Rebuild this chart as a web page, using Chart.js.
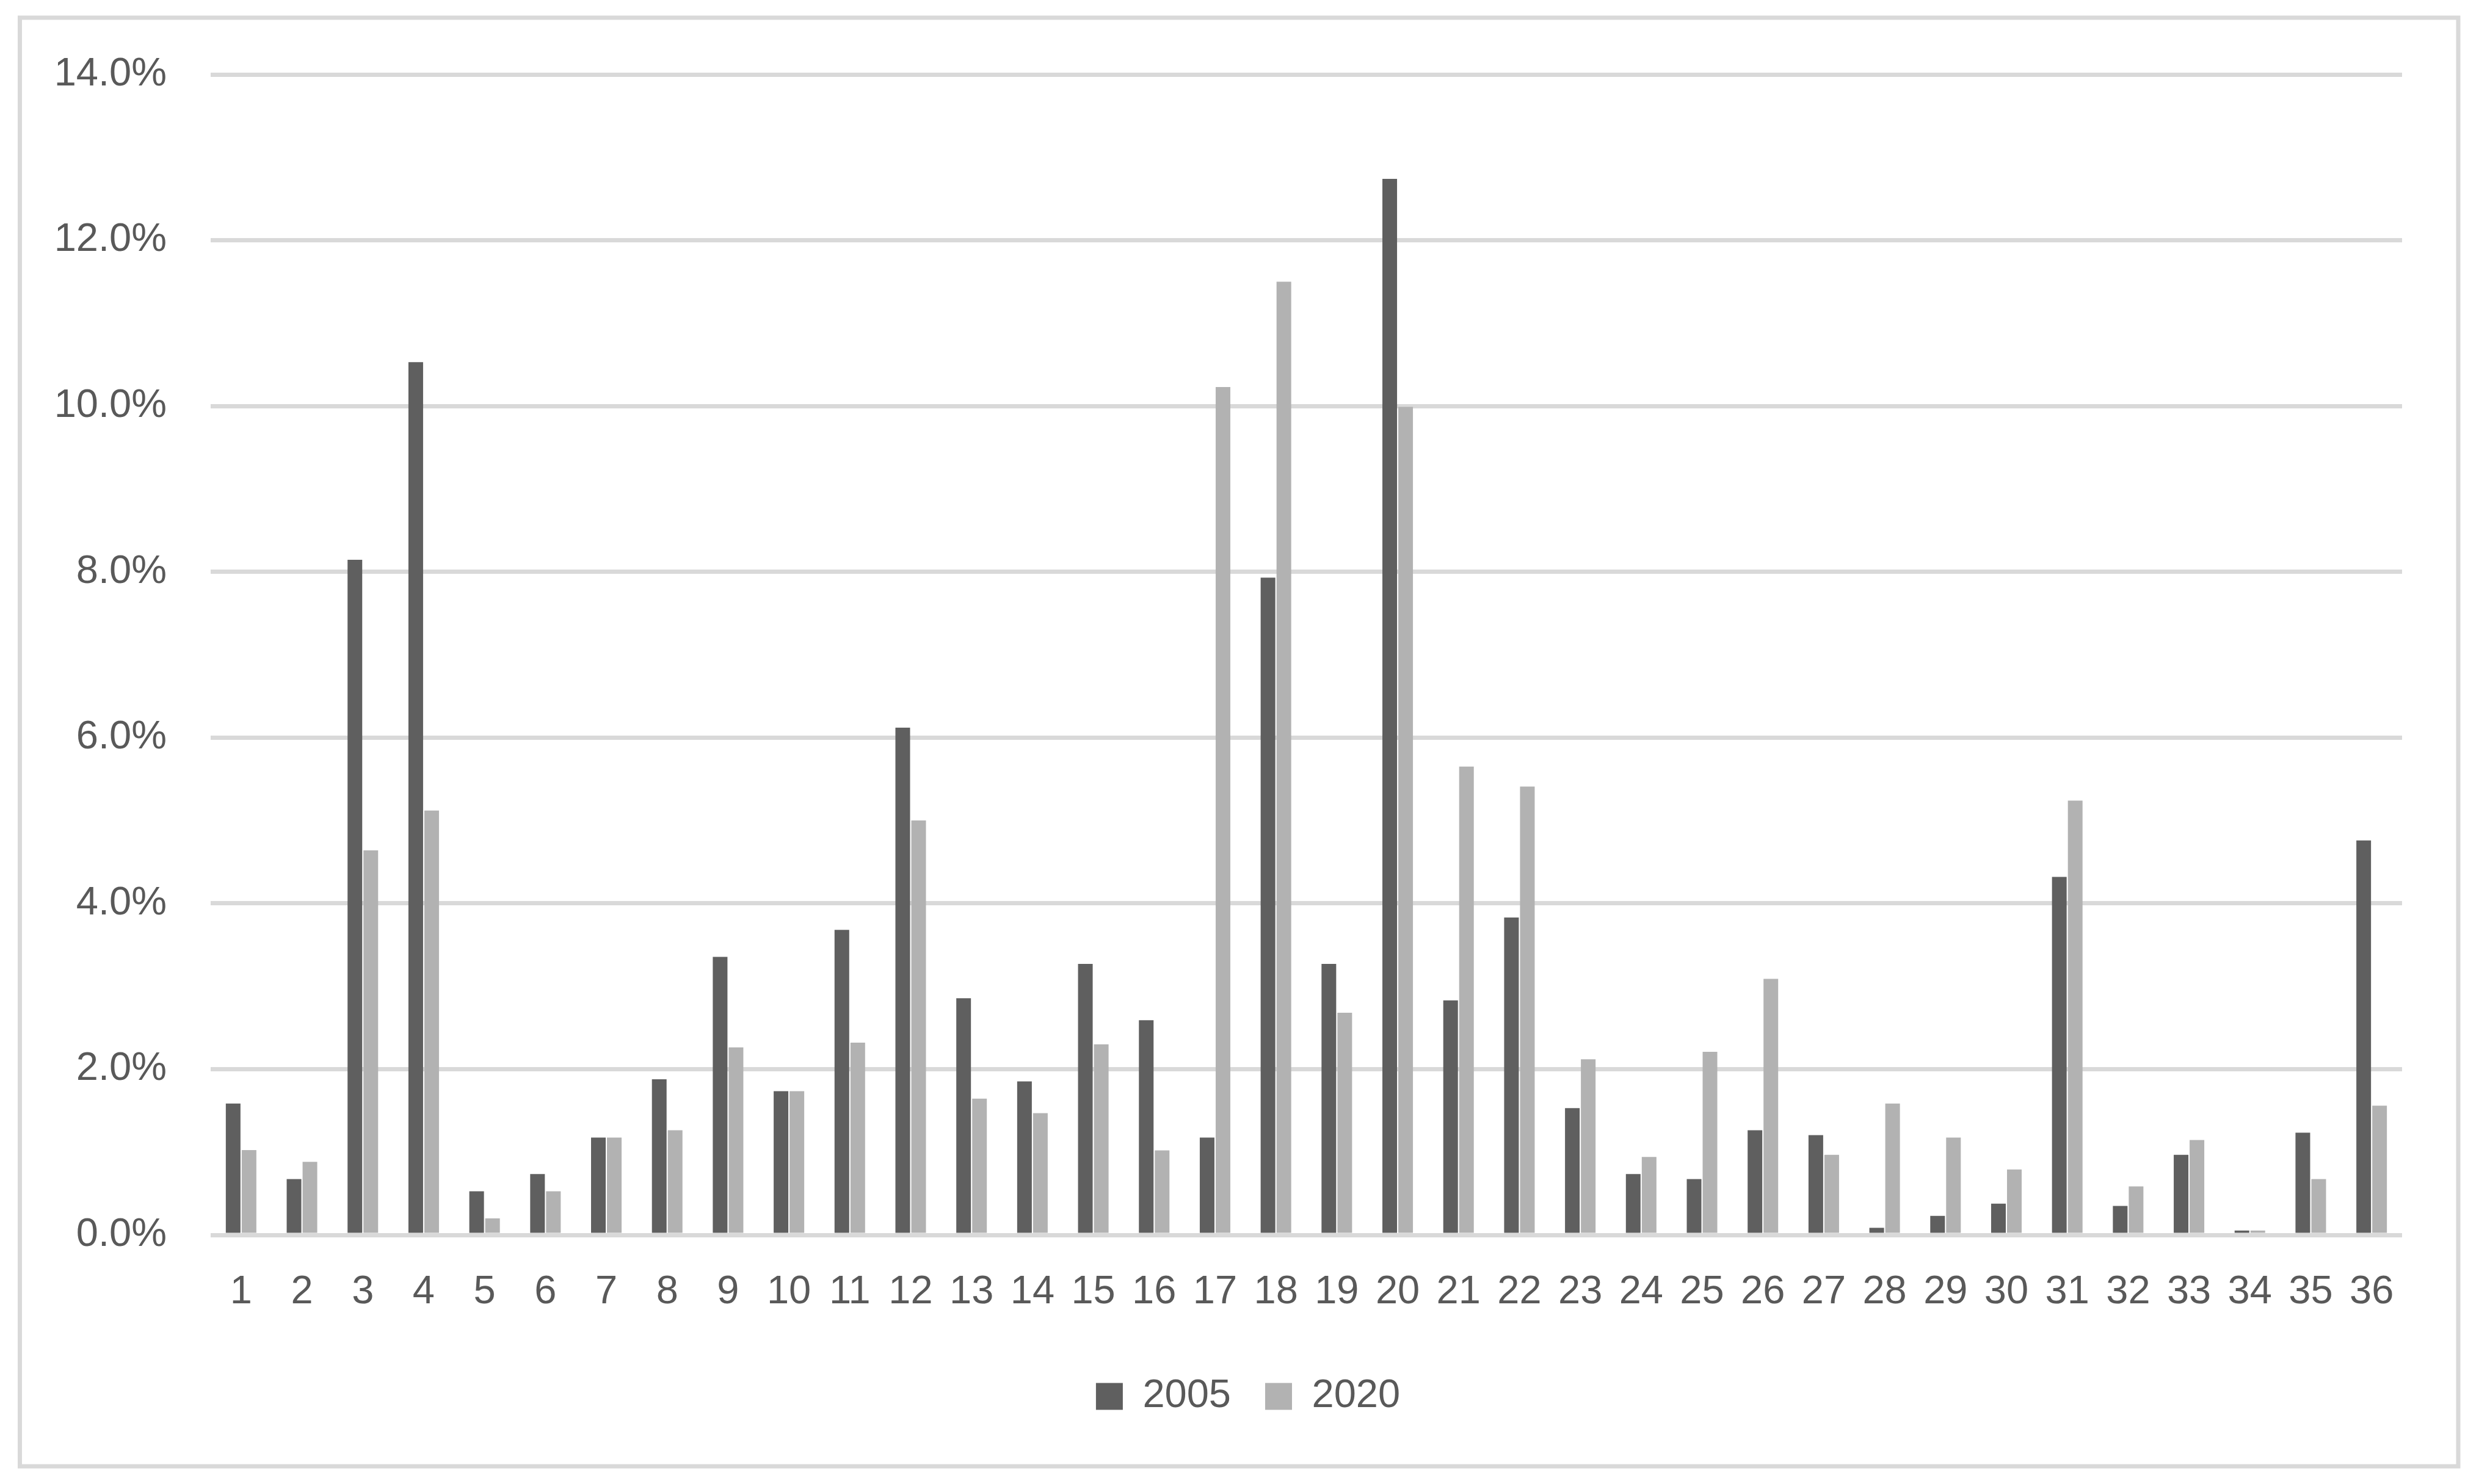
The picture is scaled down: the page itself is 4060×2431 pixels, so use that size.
<!DOCTYPE html>
<html>
<head>
<meta charset="utf-8">
<script src="https://cdn.jsdelivr.net/npm/chart.js@4.4.1/dist/chart.umd.min.js"></script>
<style>
  html, body { margin: 0; padding: 0; background: #fff; }
  canvas { display: block; }
</style>
</head>
<body>
<canvas id="grafico" width="4060" height="2431"></canvas>
<script>
const categorias = [];
for (let i = 1; i <= 36; i++) categorias.push(String(i));

// valores em %
const valores2005 = [1.585, 0.674, 8.145, 10.53, 0.526, 0.734, 1.174, 1.878, 3.355, 1.734, 3.68, 6.12,
  2.855, 1.852, 3.27, 2.59, 1.174, 7.93, 3.27, 12.74, 2.83, 3.83, 1.53, 0.734,
  0.674, 1.263, 1.204, 0.086, 0.23, 0.378, 4.32, 0.349, 0.967, 0.053, 1.234, 4.76];
const valores2020 = [1.023, 0.882, 4.64, 5.12, 0.20, 0.526, 1.174, 1.263, 2.263, 1.734, 2.32, 5.0,
  1.645, 1.47, 2.30, 1.02, 10.23, 11.5, 2.68, 9.99, 5.65, 5.41, 2.12, 0.94,
  2.21, 3.09, 0.967, 1.585, 1.174, 0.789, 5.24, 0.586, 1.145, 0.053, 0.674, 1.56];

const yMin = 0;
const yMax = 14;
const yPasso = 2;

const corTexto = '#595959';
const corGrade = '#d9d9d9';
const fonte = { family: "'Liberation Sans', Arial, sans-serif", size: 65 };

// moldura cinza clara em volta do grafico
const moldura = {
  id: 'moldura',
  beforeDraw(chart) {
    const ctx = chart.ctx;
    ctx.save();
    ctx.fillStyle = '#ffffff';
    ctx.fillRect(0, 0, chart.width, chart.height);
    ctx.strokeStyle = corGrade;
    ctx.lineWidth = 7;
    ctx.strokeRect(32.5, 29, 3993.5, 2373);
    ctx.restore();
  },
  // legenda centrada no quadro todo, nao so na area do grafico
  afterLayout(chart) {
    if (chart.legend) chart.legend.left = 154;
  }
};

const ctx = document.getElementById('grafico').getContext('2d');
const grafico = new Chart(ctx, {
  type: 'bar',
  data: {
    labels: categorias,
    datasets: [
      { label: '2005', data: valores2005, backgroundColor: '#5f5f5f', borderWidth: 0 },
      { label: '2020', data: valores2020, backgroundColor: '#b2b2b2', borderWidth: 0 }
    ]
  },
  options: {
    responsive: false,
    animation: false,
    devicePixelRatio: 1,
    categoryPercentage: 0.522,
    barPercentage: 0.923,
    layout: { padding: { top: 122, right: 126, bottom: 101, left: 0 } },
    plugins: {
      tooltip: { enabled: false },
      legend: {
        position: 'bottom',
        labels: {
          color: corTexto,
          font: fonte,
          boxWidth: 44,
          boxHeight: 44,
          padding: 56
        }
      }
    },
    scales: {
      x: {
        grid: { display: false, drawTicks: false },
        border: { display: false },
        ticks: { color: corTexto, font: fonte, autoSkip: false, maxRotation: 0, padding: 55 },
        afterFit(scale) { scale.height = 176; }
      },
      y: {
        min: yMin,
        max: yMax,
        grid: { color: corGrade, lineWidth: 7, drawTicks: false },
        border: { display: false },
        ticks: {
          stepSize: yPasso,
          color: corTexto,
          font: fonte,
          padding: 72,
          callback: v => v.toFixed(1) + '%'
        },
        afterFit(scale) { scale.width = 345; }
      }
    }
  },
  plugins: [moldura]
});
</script>
</body>
</html>
